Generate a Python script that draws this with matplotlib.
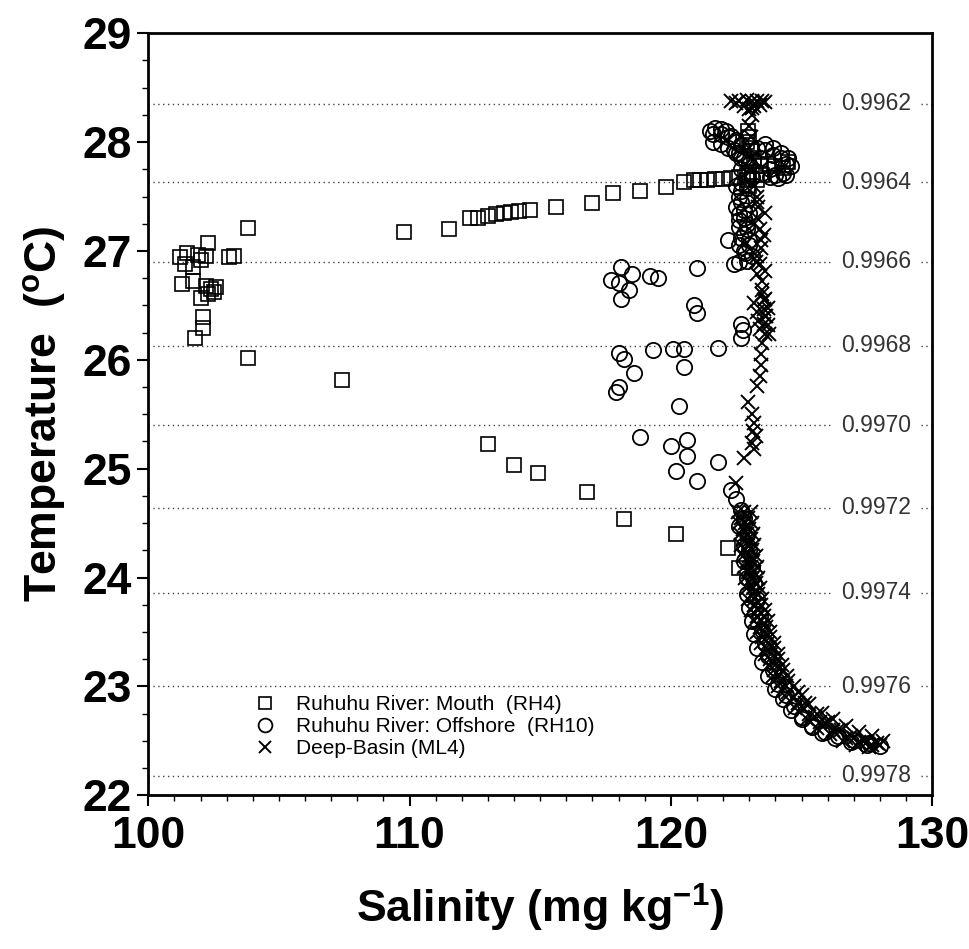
import numpy as np
import matplotlib
matplotlib.use('Agg')
from matplotlib import pyplot as plt
from matplotlib.ticker import MultipleLocator

###############################################################################
# Data
###############################################################################

# Ruhuhu River: Mouth (RH4)  -- salinity, temperature
rh4_sal = [101.2, 101.5, 101.9, 102.3, 102.0, 101.7, 102.2, 101.4, 103.1, 103.3,
           101.3, 101.7, 102.0, 102.2, 102.4, 102.5, 102.6, 102.3, 102.1, 102.1,
           101.8, 103.8, 107.4, 103.8,
           109.8, 111.5, 112.3, 112.6, 113.0, 113.3, 113.6, 113.9, 114.2, 114.6,
           115.6, 117.0, 117.8, 118.8, 119.8, 120.5, 120.9, 121.1, 121.4, 121.7,
           122.0, 122.3, 122.6, 122.9,
           122.9, 123.1, 123.2, 123.4, 123.7, 124.0, 124.3, 123.0, 123.5, 124.5,
           122.9, 123.1, 123.3, 123.0, 122.95, 123.0, 123.05,
           113.0, 114.0, 114.9, 116.8, 118.2, 120.2, 122.2, 122.6]
rh4_temp = [26.94, 26.98, 26.96, 27.07, 26.92, 26.85, 26.95, 26.88, 26.94, 26.95,
            26.70, 26.72, 26.57, 26.68, 26.65, 26.62, 26.67, 26.60, 26.39, 26.29,
            26.20, 26.02, 25.81, 27.21,
            27.17, 27.20, 27.30, 27.30, 27.32, 27.34, 27.35, 27.36, 27.37, 27.38,
            27.40, 27.44, 27.53, 27.55, 27.59, 27.63, 27.65, 27.65, 27.65, 27.66,
            27.66, 27.67, 27.68, 27.70,
            28.00, 27.92, 27.85, 27.78, 27.80, 27.78, 27.76, 27.72, 27.70, 27.82,
            27.65, 27.70, 27.65, 27.60, 28.10, 28.05, 27.95,
            25.23, 25.03, 24.96, 24.79, 24.54, 24.40, 24.27, 24.09]

# Ruhuhu River: Offshore (RH10)
rh10_sal = [118.1, 118.5, 117.7, 118.0, 119.2, 119.5, 118.4, 118.1, 121.0, 120.9,
            121.0, 118.0, 118.2, 118.6, 118.0, 117.9, 119.3, 120.1, 120.5, 120.5,
            121.8, 122.7, 122.7, 120.3, 118.8, 120.0, 120.6, 120.6, 120.2, 121.0,
            121.8,
            122.2, 122.4, 122.6, 122.9, 122.6, 122.7, 122.8, 122.9, 123.0, 122.7,
            122.8, 122.6, 122.8, 122.75,
            121.6, 121.9, 122.2, 122.5, 122.7, 122.6, 122.4, 122.8, 123.3, 123.6,
            123.9, 124.2, 124.4, 124.3, 124.0, 123.8, 123.0, 123.4, 122.7, 123.1,
            121.5, 121.7, 121.9, 122.1, 122.3, 122.5, 121.6, 121.9, 122.2, 122.5,
            122.7, 123.6, 123.9, 124.2, 124.5, 124.6, 124.4, 124.1, 123.8, 123.5,
            122.5, 122.7, 122.9, 122.6, 122.9, 122.5, 122.8, 123.0, 122.6, 122.9,
            122.7, 123.0, 122.6, 122.85, 123.1,
            122.3, 122.5, 122.7, 122.8, 122.6, 122.9, 122.8, 123.0, 122.8, 123.1,
            122.9, 123.2, 122.9, 123.3, 123.0, 123.4, 123.1, 123.5, 123.2, 123.6,
            123.3, 123.7, 123.5, 123.9, 123.7, 124.1, 124.0, 124.4, 124.3, 124.7,
            124.6, 125.0, 125.0, 125.4, 125.4, 125.8, 125.9, 126.3, 126.4, 126.9,
            127.0, 127.5, 127.6, 128.0]
rh10_temp = [26.85, 26.79, 26.73, 26.71, 26.77, 26.75, 26.64, 26.56, 26.84, 26.50,
             26.43, 26.06, 26.01, 25.88, 25.75, 25.70, 26.09, 26.10, 26.10, 25.93,
             26.11, 26.20, 26.33, 25.58, 25.29, 25.21, 25.26, 25.12, 24.98, 24.89,
             25.06,
             27.10, 26.88, 26.90, 26.91, 27.34, 27.45, 27.16, 27.25, 27.05, 27.55,
             27.38, 27.22, 27.00, 26.27,
             28.07, 28.07, 28.05, 28.02, 27.97, 27.90, 27.93, 27.85, 27.95, 27.93,
             27.88, 27.85, 27.80, 27.72, 27.70, 27.75, 27.80, 27.85, 27.75, 27.68,
             28.10, 28.13, 28.12, 28.10, 28.06, 28.00, 28.00, 27.98, 27.95, 27.90,
             27.85, 27.98, 27.95, 27.90, 27.85, 27.78, 27.70, 27.67, 27.68, 27.72,
             27.60, 27.62, 27.58, 27.50, 27.48, 27.40, 27.30, 27.35, 27.28, 27.20,
             27.12, 27.10, 27.05, 26.98, 26.95,
             24.80, 24.72, 24.62, 24.55, 24.47, 24.40, 24.30, 24.25, 24.15, 24.10,
             24.00, 23.95, 23.85, 23.80, 23.72, 23.65, 23.60, 23.52, 23.48, 23.40,
             23.35, 23.28, 23.22, 23.15, 23.10, 23.02, 22.98, 22.92, 22.88, 22.82,
             22.78, 22.72, 22.70, 22.64, 22.63, 22.57, 22.58, 22.53, 22.54, 22.49,
             22.51, 22.46, 22.48, 22.45]

# Deep-Basin (ML4)
ml4_sal = [122.3, 122.6, 122.9, 123.1, 123.3, 123.5, 123.6, 122.8, 123.2, 122.5,
           123.4, 123.0, 123.1,
           123.1, 123.0, 123.05, 123.0, 123.1, 123.0,
           123.2, 123.3, 123.35, 123.3, 123.4, 123.45, 123.45, 123.3, 123.4, 123.3,
           123.5, 123.5, 123.55, 123.56, 123.6, 123.56, 123.6, 123.5, 123.45, 123.45,
           123.4, 123.3, 122.95, 123.1, 123.2, 123.15, 123.25, 123.1, 123.2, 122.8,
           122.5,
           123.5, 123.6, 123.2, 123.7, 123.3, 123.65, 123.35, 123.7, 123.4, 123.75,
           123.3, 123.6, 123.2, 123.55, 123.25, 123.6,
           122.55, 122.8, 123.05, 122.6, 122.85, 123.1, 122.65, 122.9, 123.15,
           122.7, 122.95, 123.2, 122.75, 123.0, 123.25, 122.8, 123.05, 123.3,
           122.85, 123.1, 123.35, 122.9, 123.15, 123.4, 122.95, 123.2, 123.5,
           123.05, 123.35, 123.6, 123.2, 123.45, 123.7, 123.3, 123.55, 123.8,
           123.45, 123.7, 123.95, 123.6, 123.85, 124.1, 123.75, 124.0, 124.25,
           123.9, 124.15, 124.45, 124.1, 124.4, 124.7, 124.4, 124.7, 125.0,
           124.75, 125.05, 125.3, 125.2, 125.5, 125.8, 125.6, 125.9, 126.2,
           126.1, 126.4, 126.7, 126.6, 126.9, 127.2, 127.1, 127.4, 127.7,
           127.6, 127.9, 128.1,
           122.7, 122.95, 122.75, 123.0, 122.8, 123.05, 122.85, 123.1,
           122.9, 123.15, 122.95, 123.2, 123.0, 123.25, 123.1, 123.35,
           123.2, 123.45, 123.3, 123.55, 123.4, 123.65, 123.5, 123.8,
           123.65, 123.95, 123.8, 124.1, 123.95, 124.3, 124.2, 124.5,
           124.5, 124.85, 124.85, 125.15, 125.3, 125.6, 125.7, 126.0,
           126.2, 126.5, 126.7, 127.0, 127.2, 127.5, 127.7, 128.0]
ml4_temp = [28.38, 28.38, 28.39, 28.38, 28.38, 28.38, 28.37, 28.33, 28.33, 28.36,
            28.34, 28.30, 28.31,
            28.25, 28.15, 28.05, 27.95, 27.85, 27.75,
            27.60, 27.50, 27.40, 27.30, 27.20, 27.10, 27.03, 26.95, 26.88, 26.79,
            26.72, 26.64, 26.55, 26.47, 26.40, 26.33, 26.24, 26.15, 26.05, 25.95,
            25.85, 25.76, 25.61, 25.50, 25.42, 25.35, 25.30, 25.24, 25.18, 25.10,
            24.87,
            26.60, 26.56, 26.52, 26.48, 26.44, 26.40, 26.36, 26.32, 26.28, 26.24,
            27.45, 27.35, 27.25, 27.15, 26.90, 26.82,
            24.60, 24.60, 24.60, 24.50, 24.50, 24.50, 24.40, 24.40, 24.40,
            24.30, 24.30, 24.30, 24.20, 24.20, 24.20, 24.10, 24.10, 24.10,
            24.00, 24.00, 24.00, 23.90, 23.90, 23.90, 23.80, 23.80, 23.80,
            23.70, 23.70, 23.70, 23.60, 23.60, 23.60, 23.50, 23.50, 23.50,
            23.40, 23.40, 23.40, 23.30, 23.30, 23.30, 23.20, 23.20, 23.20,
            23.10, 23.10, 23.10, 23.00, 23.00, 23.00, 22.90, 22.90, 22.92,
            22.80, 22.80, 22.84, 22.70, 22.72, 22.76, 22.62, 22.66, 22.70,
            22.56, 22.60, 22.64, 22.50, 22.54, 22.58, 22.46, 22.50, 22.54,
            22.44, 22.48, 22.50,
            24.55, 24.55, 24.45, 24.45, 24.35, 24.35, 24.25, 24.25,
            24.15, 24.15, 24.05, 24.05, 23.95, 23.95, 23.85, 23.85,
            23.75, 23.75, 23.65, 23.65, 23.55, 23.55, 23.45, 23.45,
            23.35, 23.35, 23.25, 23.25, 23.15, 23.15, 23.05, 23.05,
            22.95, 22.95, 22.85, 22.85, 22.75, 22.75, 22.67, 22.67,
            22.60, 22.60, 22.53, 22.53, 22.49, 22.49, 22.46, 22.46]

# density isolines (temperature level, label)
dens_temp = [28.35, 27.63, 26.90, 26.13, 25.40, 24.64, 23.86, 23.00, 22.18]
dens_labels = ['0.9962', '0.9964', '0.9966', '0.9968', '0.9970',
               '0.9972', '0.9974', '0.9976', '0.9978']

###############################################################################
# Plotting
###############################################################################

plt.rcParams.update({'font.family': 'Liberation Sans',
                     'mathtext.fontset': 'custom',
                     'mathtext.rm': 'Liberation Sans:bold',
                     'mathtext.it': 'Liberation Sans:bold',
                     'mathtext.bf': 'Liberation Sans:bold'})

fig = plt.figure(figsize=(9.69, 9.49), dpi=100)
ax = fig.add_axes([0.153, 0.162, 0.809, 0.803])

# density lines with labels
for t, lab in zip(dens_temp, dens_labels):
    ax.plot([100, 130], [t, t], color='#444444', lw=1.0,
            linestyle=(0, (1, 2.5)), zorder=1)
    ax.text(127.85, t, lab, fontsize=16.5, color='#333333', ha='center',
            va='center', zorder=2,
            bbox=dict(facecolor='white', edgecolor='none', pad=7))

ax.plot(rh4_sal, rh4_temp, 's', ms=10, mfc='none', mec='black', mew=1.2,
        zorder=3, label='Ruhuhu River: Mouth  (RH4)')
ax.plot(rh10_sal, rh10_temp, 'o', ms=11, mfc='none', mec='black', mew=1.3,
        zorder=3, label='Ruhuhu River: Offshore  (RH10)')
ax.plot(ml4_sal, ml4_temp, 'x', ms=10, mec='black', mew=1.4,
        zorder=3, label='Deep-Basin (ML4)')

ax.set_xlim(100, 130)
ax.set_ylim(22, 29)
ax.xaxis.set_major_locator(MultipleLocator(10))
ax.xaxis.set_minor_locator(MultipleLocator(1))
ax.yaxis.set_major_locator(MultipleLocator(1))
ax.yaxis.set_minor_locator(MultipleLocator(0.25))
ax.tick_params(which='major', direction='out', length=8, width=1.5,
               labelsize=32, top=False, right=False)
ax.tick_params(axis='x', which='major', pad=7)
ax.tick_params(axis='y', which='major', pad=4)
ax.tick_params(which='minor', direction='out', length=4, width=1.0,
               top=False, right=False)
for lbl in ax.get_xticklabels() + ax.get_yticklabels():
    lbl.set_fontweight('bold')
for sp in ax.spines.values():
    sp.set_linewidth(2)

ax.set_xlabel('Salinity (mg kg$^{-1}$)', fontsize=32, fontweight='bold',
              labelpad=18)
ax.set_ylabel('Temperature  ($^{\\rm o}$C)', fontsize=32, fontweight='bold',
              labelpad=10)

leg = ax.legend(loc='lower left', bbox_to_anchor=(0.12, 0.035), frameon=False,
                fontsize=15, handletextpad=0.9, labelspacing=0.15,
                borderpad=0, handlelength=1.2, markerscale=0.9)

fig.savefig('out.png', dpi=100)
